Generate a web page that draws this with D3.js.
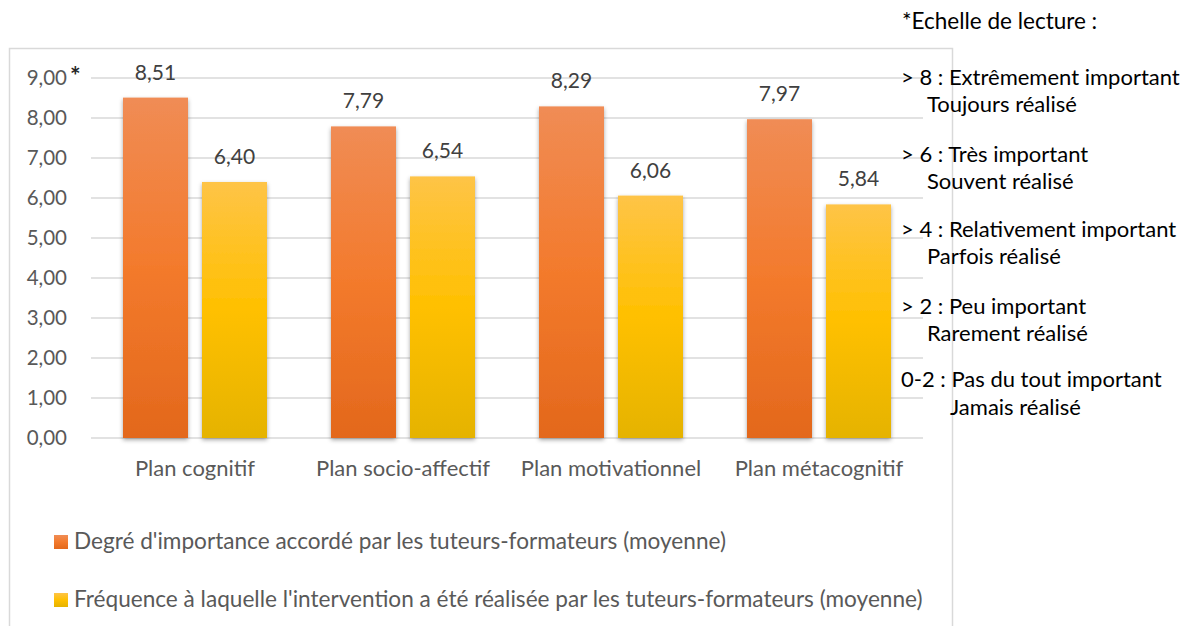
<!DOCTYPE html>
<html>
<head>
<meta charset="utf-8">
<script src="https://cdn.jsdelivr.net/npm/d3@7"></script>
<style>
  html, body { margin: 0; padding: 0; background: #fff; }
  svg { display: block; }
  text { font-family: Lato, "Open Sans", sans-serif; }
</style>
</head>
<body>
<svg id="chart" width="1197" height="626"></svg>
<script>
// ---- data ----
const categories = ["Plan cognitif", "Plan socio-affectif", "Plan motivationnel", "Plan métacognitif"];
const seriesNames = [
  "Degré d'importance accordé par les tuteurs-formateurs (moyenne)",
  "Fréquence à laquelle l'intervention a été réalisée par les tuteurs-formateurs (moyenne)"
];
const importanceValues = [8.51, 7.79, 8.29, 7.97];
const frequencyValues = [6.40, 6.54, 6.06, 5.84];
const yTicks = [0, 1, 2, 3, 4, 5, 6, 7, 8, 9];
const noteTitle = "*Echelle de lecture :";
const noteLines = [
  ["> 8 : Extrêmement important", "Toujours réalisé"],
  ["> 6 : Très important", "Souvent réalisé"],
  ["> 4 : Relativement important", "Parfois réalisé"],
  ["> 2 : Peu important", "Rarement réalisé"],
  ["0-2 : Pas du tout important", "Jamais réalisé"]
];

// ---- setup ----
const svg = d3.select("#chart");
const defs = svg.append("defs");

function grad(id, stops) {
  const g = defs.append("linearGradient").attr("id", id)
    .attr("x1", 0).attr("y1", 0).attr("x2", 0).attr("y2", 1);
  stops.forEach(s => g.append("stop").attr("offset", s[0]).attr("stop-color", s[1]));
}
grad("gOrange", [[0, "#f08c55"], [0.5, "#f37a2c"], [1, "#e3681c"]]);
grad("gYellow", [[0, "#fec447"], [0.5, "#ffc000"], [1, "#e5b300"]]);
const fills = ["url(#gOrange)", "url(#gYellow)"];

const f = defs.append("filter").attr("id", "shadow")
  .attr("x", "-20%").attr("y", "-5%").attr("width", "140%").attr("height", "115%");
f.append("feDropShadow").attr("dx", 0).attr("dy", 2).attr("stdDeviation", 2.2)
  .attr("flood-color", "#000").attr("flood-opacity", 0.35);

// chart border
svg.append("rect").attr("x", 9.5).attr("y", 48.5).attr("width", 943).attr("height", 640)
  .attr("fill", "none").attr("stroke", "#d9d9d9").attr("stroke-width", 1.5);

const x0 = d3.scaleBand().domain(categories).range([91, 923]).paddingInner(0).paddingOuter(0);
const x1 = d3.scaleBand().domain(d3.range(seriesNames.length))
  .range([32, x0.bandwidth() - 32]).paddingInner(14 / 79).paddingOuter(0);
const y = d3.scaleLinear().domain([0, 9]).range([438, 78]);

const fmt = v => d3.format(".2f")(v).replace(".", ",");

// gridlines
svg.append("g").selectAll("line").data(yTicks).join("line")
  .attr("x1", 91).attr("x2", 923)
  .attr("y1", d => y(d)).attr("y2", d => y(d))
  .attr("stroke", "#d9d9d9").attr("stroke-width", 1.5);

// y axis labels
const yAxis = d3.axisLeft(y).tickValues(yTicks).tickFormat(fmt).tickSize(0).tickPadding(0);
const yg = svg.append("g").attr("transform", "translate(67,0)").call(yAxis);
yg.select(".domain").remove();
yg.selectAll("text").attr("font-size", 20.5).attr("fill", "#595959").attr("dy", "0.34em")
  .style("font-family", "Lato, sans-serif");

// asterisk
svg.append("text").attr("x", 70).attr("y", 85).attr("font-size", 25).attr("font-weight", "bold")
  .attr("fill", "#262626").text("*");

// bars
const seriesData = [importanceValues, frequencyValues];
const groups = svg.append("g").selectAll("g").data(categories).join("g")
  .attr("transform", d => `translate(${x0(d)},0)`);

groups.selectAll("rect").data((c, i) => seriesData.map((s, k) => ({ k, v: s[i] }))).join("rect")
  .attr("x", d => x1(d.k)).attr("width", x1.bandwidth())
  .attr("y", d => y(d.v)).attr("height", d => y(0) - y(d.v))
  .attr("fill", d => fills[d.k]).attr("filter", "url(#shadow)");

groups.selectAll("text.val").data((c, i) => seriesData.map((s, k) => ({ k, v: s[i] }))).join("text")
  .attr("class", "val")
  .attr("x", d => x1(d.k) + x1.bandwidth() / 2)
  .attr("y", d => y(d.v) - 18)
  .attr("text-anchor", "middle").attr("font-size", 21).attr("fill", "#404040")
  .text(d => fmt(d.v));

// x axis labels
const xAxis = d3.axisBottom(x0).tickSize(0).tickPadding(0);
const xg = svg.append("g").attr("transform", "translate(0,476)").call(xAxis);
xg.select(".domain").remove();
xg.selectAll("text").attr("font-size", 22).attr("fill", "#595959").attr("dy", 0)
  .style("font-family", "Lato, sans-serif");

// legend
const leg = svg.append("g").selectAll("g").data(seriesNames).join("g")
  .attr("transform", (d, i) => `translate(54,${535 + i * 58})`);
leg.append("rect").attr("width", 14).attr("height", 14).attr("fill", (d, i) => fills[i]);
leg.append("text").attr("x", 20).attr("y", 14).attr("font-size", 22.6).attr("fill", "#595959")
  .text(d => d);

// reading scale notes
const notes = svg.append("g").attr("fill", "#000");
notes.append("text").attr("x", 902).attr("y", 29).attr("font-size", 22.5).text(noteTitle);
const noteY = [[85, 112], [162, 189], [237, 264], [314, 341], [387, 415]];
const indent = [927, 927, 927, 927, 950];
noteLines.forEach((pair, i) => {
  notes.append("text").attr("x", 901).attr("y", noteY[i][0]).attr("font-size", 22).text(pair[0]);
  notes.append("text").attr("x", indent[i]).attr("y", noteY[i][1]).attr("font-size", 22).text(pair[1]);
});
</script>
</body>
</html>
